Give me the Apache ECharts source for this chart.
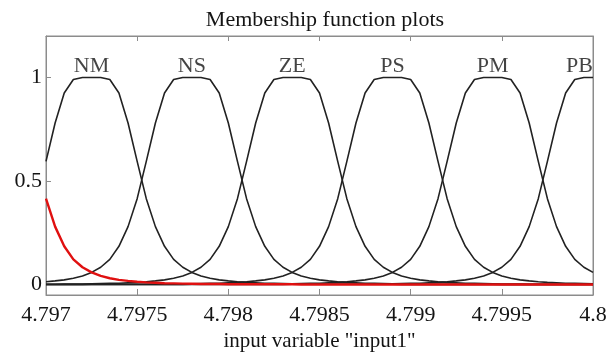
<!DOCTYPE html>
<html>
<head>
<meta charset="utf-8">
<script src="https://cdn.jsdelivr.net/npm/echarts@6/dist/echarts.min.js"></script>
<style>
html,body{margin:0;padding:0;background:#fff;}
#chart{width:614px;height:358px;}
</style>
</head>
<body>
<div id="chart"></div>
<script>
// x sample positions (input variable)
const xValues = [
  4.797, 4.79705, 4.7971, 4.79715, 4.7972, 4.79725, 4.7973, 4.79735, 4.7974, 4.79745,
  4.7975, 4.79755, 4.7976, 4.79765, 4.7977, 4.79775, 4.7978, 4.79785, 4.7979, 4.79795,
  4.798, 4.79805, 4.7981, 4.79815, 4.7982, 4.79825, 4.7983, 4.79835, 4.7984, 4.79845,
  4.7985, 4.79855, 4.7986, 4.79865, 4.7987, 4.79875, 4.7988, 4.79885, 4.7989, 4.79895,
  4.799, 4.79905, 4.7991, 4.79915, 4.7992, 4.79925, 4.7993, 4.79935, 4.7994, 4.79945,
  4.7995, 4.79955, 4.7996, 4.79965, 4.7997, 4.79975, 4.7998, 4.79985, 4.7999, 4.79995,
  4.8
];

// membership values
const NB = [
  0.415, 0.28, 0.185, 0.122, 0.084, 0.059, 0.042, 0.031, 0.023, 0.018,
  0.014, 0.011, 0.009, 0.007, 0.006, 0.005, 0.004, 0.003, 0.003, 0.003,
  0.002, 0.002, 0.002, 0.002, 0.002, 0.002, 0.002, 0.002, 0.001, 0.001,
  0.001, 0.001, 0.001, 0.001, 0.001, 0.001, 0.001, 0.001, 0.001, 0.001,
  0.001, 0.001, 0.001, 0.001, 0.001, 0.001, 0.001, 0.001, 0.001, 0.001,
  0.001, 0.001, 0.001, 0.001, 0.001, 0.001, 0.001, 0.001, 0.001, 0.001,
  0.001
];
const NM = [
  0.595, 0.78, 0.925, 0.99, 1, 1, 1, 0.99, 0.925, 0.78,
  0.595, 0.415, 0.28, 0.185, 0.122, 0.084, 0.059, 0.042, 0.031, 0.023,
  0.018, 0.014, 0.011, 0.009, 0.007, 0.006, 0.005, 0.004, 0.003, 0.003,
  0.003, 0.002, 0.002, 0.002, 0.002, 0.002, 0.002, 0.002, 0.002, 0.001,
  0.001, 0.001, 0.001, 0.001, 0.001, 0.001, 0.001, 0.001, 0.001, 0.001,
  0.001, 0.001, 0.001, 0.001, 0.001, 0.001, 0.001, 0.001, 0.001, 0.001,
  0.001
];
const NS = [
  0.014, 0.018, 0.023, 0.031, 0.042, 0.059, 0.084, 0.122, 0.185, 0.28,
  0.415, 0.595, 0.78, 0.925, 0.99, 1, 1, 1, 0.99, 0.925,
  0.78, 0.595, 0.415, 0.28, 0.185, 0.122, 0.084, 0.059, 0.042, 0.031,
  0.023, 0.018, 0.014, 0.011, 0.009, 0.007, 0.006, 0.005, 0.004, 0.003,
  0.003, 0.003, 0.002, 0.002, 0.002, 0.002, 0.002, 0.002, 0.002, 0.002,
  0.001, 0.001, 0.001, 0.001, 0.001, 0.001, 0.001, 0.001, 0.001, 0.001,
  0.001
];
const ZE = [
  0.002, 0.002, 0.003, 0.003, 0.003, 0.004, 0.005, 0.006, 0.007, 0.009,
  0.011, 0.014, 0.018, 0.023, 0.031, 0.042, 0.059, 0.084, 0.122, 0.185,
  0.28, 0.415, 0.595, 0.78, 0.925, 0.99, 1, 1, 1, 0.99,
  0.925, 0.78, 0.595, 0.415, 0.28, 0.185, 0.122, 0.084, 0.059, 0.042,
  0.031, 0.023, 0.018, 0.014, 0.011, 0.009, 0.007, 0.006, 0.005, 0.004,
  0.003, 0.003, 0.003, 0.002, 0.002, 0.002, 0.002, 0.002, 0.002, 0.002,
  0.002
];
const PS = [
  0.001, 0.001, 0.001, 0.001, 0.001, 0.002, 0.002, 0.002, 0.002, 0.002,
  0.002, 0.002, 0.002, 0.003, 0.003, 0.003, 0.004, 0.005, 0.006, 0.007,
  0.009, 0.011, 0.014, 0.018, 0.023, 0.031, 0.042, 0.059, 0.084, 0.122,
  0.185, 0.28, 0.415, 0.595, 0.78, 0.925, 0.99, 1, 1, 1,
  0.99, 0.925, 0.78, 0.595, 0.415, 0.28, 0.185, 0.122, 0.084, 0.059,
  0.042, 0.031, 0.023, 0.018, 0.014, 0.011, 0.009, 0.007, 0.006, 0.005,
  0.004
];
const PM = [
  0.001, 0.001, 0.001, 0.001, 0.001, 0.001, 0.001, 0.001, 0.001, 0.001,
  0.001, 0.001, 0.001, 0.001, 0.001, 0.001, 0.002, 0.002, 0.002, 0.002,
  0.002, 0.002, 0.002, 0.002, 0.003, 0.003, 0.003, 0.004, 0.005, 0.006,
  0.007, 0.009, 0.011, 0.014, 0.018, 0.023, 0.031, 0.042, 0.059, 0.084,
  0.122, 0.185, 0.28, 0.415, 0.595, 0.78, 0.925, 0.99, 1, 1,
  1, 0.99, 0.925, 0.78, 0.595, 0.415, 0.28, 0.185, 0.122, 0.084,
  0.059
];
const PB = [
  0.001, 0.001, 0.001, 0.001, 0.001, 0.001, 0.001, 0.001, 0.001, 0.001,
  0.001, 0.001, 0.001, 0.001, 0.001, 0.001, 0.001, 0.001, 0.001, 0.001,
  0.001, 0.001, 0.001, 0.001, 0.001, 0.001, 0.001, 0.002, 0.002, 0.002,
  0.002, 0.002, 0.002, 0.002, 0.002, 0.003, 0.003, 0.003, 0.004, 0.005,
  0.006, 0.007, 0.009, 0.011, 0.014, 0.018, 0.023, 0.031, 0.042, 0.059,
  0.084, 0.122, 0.185, 0.28, 0.415, 0.595, 0.78, 0.925, 0.99, 1,
  1
];

// label names and their peak positions
const mfNames = ['NM', 'NS', 'ZE', 'PS', 'PM', 'PB'];
const mfPeaks = [4.79725, 4.7978, 4.79835, 4.7989, 4.79945, 4.8];

// ticks
const xTicks = [4.797, 4.7975, 4.798, 4.7985, 4.799, 4.7995, 4.8];
const xTickLabels = ['4.797', '4.7975', '4.798', '4.7985', '4.799', '4.7995', '4.8'];
const yTicks = [0, 0.5, 1];
const yTickLabels = ['0', '0.5', '1'];

const FONT = '"Liberation Serif", "Times New Roman", serif';
const AXIS_GRAY = '#8c8c8c';
const TEXT = '#141414';

function pairs(ys) { return xValues.map((x, i) => [x, ys[i]]); }
function nearestLabel(v, ticks, labels) {
  let best = 0;
  for (let i = 1; i < ticks.length; i++) {
    if (Math.abs(ticks[i] - v) < Math.abs(ticks[best] - v)) best = i;
  }
  return labels[best];
}

const blackSeries = [NM, NS, ZE, PS, PM, PB].map((ys, k) => ({
  name: mfNames[k],
  type: 'line',
  data: pairs(ys),
  showSymbol: false,
  symbol: 'none',
  smooth: false,
  lineStyle: { color: '#222222', width: 1.6 },
  z: 3,
  silent: true
}));

const chart = echarts.init(document.getElementById('chart'), null, { renderer: 'canvas' });
chart.setOption({
  backgroundColor: '#ffffff',
  animation: false,
  title: {
    text: 'Membership function plots',
    left: 320,
    textAlign: 'center',
    top: 4,
    textStyle: { fontFamily: FONT, fontSize: 22, fontWeight: 'normal', color: TEXT }
  },
  grid: {
    left: 46, right: 21, top: 36, bottom: 63, containLabel: false,
    show: true, borderColor: AXIS_GRAY, borderWidth: 1, backgroundColor: 'transparent'
  },
  xAxis: [
    {
      type: 'value', min: 4.797, max: 4.8, position: 'bottom',
      axisLine: { show: true, onZero: false, lineStyle: { color: AXIS_GRAY, width: 1 } },
      axisTick: { show: true, inside: true, length: 6, customValues: xTicks, lineStyle: { color: AXIS_GRAY } },
      axisLabel: {
        show: true, customValues: xTicks, margin: 9,
        fontFamily: FONT, fontSize: 22, color: TEXT,
        formatter: v => nearestLabel(v, xTicks, xTickLabels)
      },
      splitLine: { show: false },
      name: 'input variable "input1"',
      nameLocation: 'middle', nameGap: 36,
      nameTextStyle: { fontFamily: FONT, fontSize: 21, color: TEXT }
    },
    {
      type: 'value', min: 4.797, max: 4.8, position: 'top',
      axisLine: { show: true, onZero: false, lineStyle: { color: AXIS_GRAY, width: 1 } },
      axisTick: { show: true, inside: true, length: 5, customValues: xTicks, lineStyle: { color: AXIS_GRAY } },
      axisLabel: { show: false },
      splitLine: { show: false }
    }
  ],
  yAxis: [
    {
      type: 'value', min: -0.05, max: 1.2, position: 'left',
      axisLine: { show: true, onZero: false, lineStyle: { color: AXIS_GRAY, width: 1 } },
      axisTick: { show: true, inside: true, length: 5, customValues: yTicks, lineStyle: { color: AXIS_GRAY } },
      axisLabel: {
        show: true, customValues: yTicks, margin: 4,
        fontFamily: FONT, fontSize: 22, color: TEXT,
        formatter: v => nearestLabel(v, yTicks, yTickLabels)
      },
      splitLine: { show: false }
    },
    {
      type: 'value', min: -0.05, max: 1.2, position: 'right',
      axisLine: { show: true, onZero: false, lineStyle: { color: AXIS_GRAY, width: 1 } },
      axisTick: { show: false },
      axisLabel: { show: false },
      splitLine: { show: false }
    }
  ],
  series: [
    ...blackSeries,
    {
      name: 'NB',
      type: 'line',
      data: pairs(NB),
      showSymbol: false,
      symbol: 'none',
      lineStyle: { color: '#e01010', width: 2.4 },
      z: 4,
      silent: true
    },
    {
      name: 'labels',
      type: 'scatter',
      symbolSize: 0,
      silent: true,
      z: 5,
      data: mfPeaks.map((x, k) => ({
        value: [x, 1],
        label: k === mfNames.length - 1 ? { align: 'right' } : {}
      })),
      label: {
        show: true, position: 'top', distance: 0,
        formatter: p => mfNames[p.dataIndex],
        fontFamily: FONT, fontSize: 22, color: TEXT
      }
    }
  ]
});
</script>
</body>
</html>
